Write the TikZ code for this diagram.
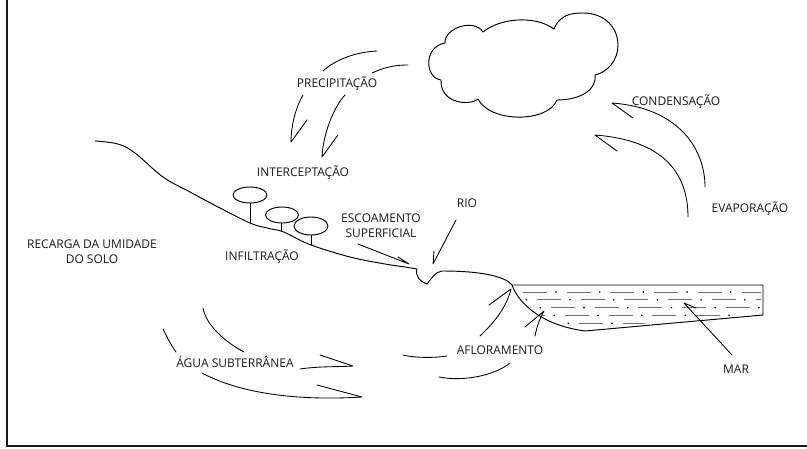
\documentclass[tikz,border=0pt]{standalone}
\usepackage{fontspec}
\setmainfont{Open Sans}
\begin{document}
\begin{tikzpicture}[x=1pt,y=-1pt,
  lbl/.style={font=\fontsize{12}{15}\selectfont, text=black!90, inner sep=0pt, align=center, anchor=base},
  lbl2/.style={lbl, anchor=north},
  curve/.style={line width=0.85pt, line cap=round, line join=round},
  outl/.style={line width=0.95pt, line join=round}]
\useasboundingbox (0,0) rectangle (807,448);
% frame
\draw[line width=2.6pt, black!90] (7,0) -- (7,446) -- (807,446);
% cloud
\draw[outl] (445,43) .. controls (444,28) and (474,18) .. (483,32)
 .. controls (500,18) and (535,15) .. (554,29)
 .. controls (560,15) and (570,13) .. (583,13)
 .. controls (605,13) and (618,28) .. (618,45)
 .. controls (618,60) and (608,72) .. (595,75)
 .. controls (597,90) and (580,100) .. (557,100)
 .. controls (548,123) and (490,123) .. (478,99)
 .. controls (470,106) and (440,104) .. (441,80)
 .. controls (425,78) and (423,47) .. (445,43);
% ground
\draw[outl] plot[smooth, tension=0.6] coordinates {(95,141) (118,144) (135,153) (163,177) (190,192) (220,208) (250,223) (267,228) (281,231) (290,235) (311,245) (350,257) (385,264) (405,267) (417,269)};
\draw[outl] (417,269) .. controls (415,276) and (420,282) .. (427,284)
 .. controls (432,278) and (435,272) .. (442,271)
 .. controls (480,271) and (505,276) .. (512,285);
% sea
\draw[outl] (512,285) .. controls (518,302) and (540,325) .. (585,331) -- (763,315) -- (763,285) -- (512,285);
\begin{scope}
\clip (514,287) .. controls (520,302) and (542,323) .. (585,329) -- (761,313) -- (761,287) -- cycle;
\foreach \k in {0,...,4}{
  \foreach \i in {-2,...,6}{
    \pgfmathsetmacro{\xs}{523+14*\k+43.7*\i}
    \pgfmathsetmacro{\yy}{292+7.8*\k}
    \draw[black!55, line width=0.9pt] (\xs,\yy) -- ++(24,0);
    \fill[black] (\xs+33,\yy) circle[radius=0.9pt];
  }
}
\end{scope}
% trees
\draw[outl] (250,195) ellipse[x radius=17pt, y radius=8pt];
\draw[outl] (250,203) -- (250,223);
\draw[outl] (282,215) ellipse[x radius=16.5pt, y radius=8pt];
\draw[outl] (281,223) -- (281,232);
\draw[outl] (311,226) ellipse[x radius=17pt, y radius=9pt];
\draw[outl] (311,235) -- (311,245);
% precipitation
\draw[curve] (323,71) .. controls (335,60) and (355,52) .. (377,51);
\draw[curve] (372,73) .. controls (385,67) and (395,65) .. (408,65);
\draw[curve] (303,95) .. controls (296,107) and (291,125) .. (291,142) -- (307,120);
\draw[curve] (345,95) .. controls (333,108) and (323,135) .. (322,157) -- (338,135);
% evaporation
\draw[curve] (705,187) .. controls (705,150) and (680,108) .. (612,103) -- (633,118);
\draw[curve] (688,217) .. controls (688,170) and (660,140) .. (595,135) -- (617,151);
% escoamento, rio, mar
\draw[curve] (358,244) -- (409,264) -- (398,257);
\draw[curve] (456,220) -- (433,264) -- (434,251);
\draw[curve] (732,355) -- (684,303) -- (696,308);
% afloramento
\draw[curve] (480,336) .. controls (495,322) and (507,306) .. (511,289) -- (489,305);
\draw[curve] (535,336) .. controls (537,326) and (540,318) .. (544,311) -- (525,327);
\draw[curve] (403,355) .. controls (415,358) and (435,358) .. (447,356);
\draw[curve] (439,377) .. controls (465,382) and (495,375) .. (510,363);
% groundwater
\draw[curve] (163,329) .. controls (167,337) and (171,345) .. (176,352);
\draw[curve] (203,308) .. controls (206,325) and (225,342) .. (244,352);
\draw[curve] (300,369) .. controls (320,366) and (340,367) .. (353,366) -- (320,355);
\draw[curve] (202,373) .. controls (230,388) and (280,402) .. (362,397) -- (317,385);
% labels
\node[lbl] (prec) at (337,87) {PRECIPITAÇÃO};
\node[lbl] (inter) at (303,176) {INTERCEPTAÇÃO};
\node[lbl] (cond) at (676,105) {CONDENSAÇÃO};
\node[lbl] (evap) at (750,212) {EVAPORAÇÃO};
\node[lbl] (rio) at (467,207) {RIO};
\node[lbl2] (esc) at (381,214) {ESCOAMENTO\\SUPERFICIAL};
\node[lbl] (inf) at (262,260) {INFILTRAÇÃO};
\node[lbl2] (rec) at (92,240) {RECARGA DA UMIDADE\\DO SOLO};
\node[lbl] (agua) at (235,367) {ÁGUA SUBTERRÂNEA};
\node[lbl] (afl) at (500,354) {AFLORAMENTO};
\node[lbl] (mar) at (736,373) {MAR};
\end{tikzpicture}
\end{document}
